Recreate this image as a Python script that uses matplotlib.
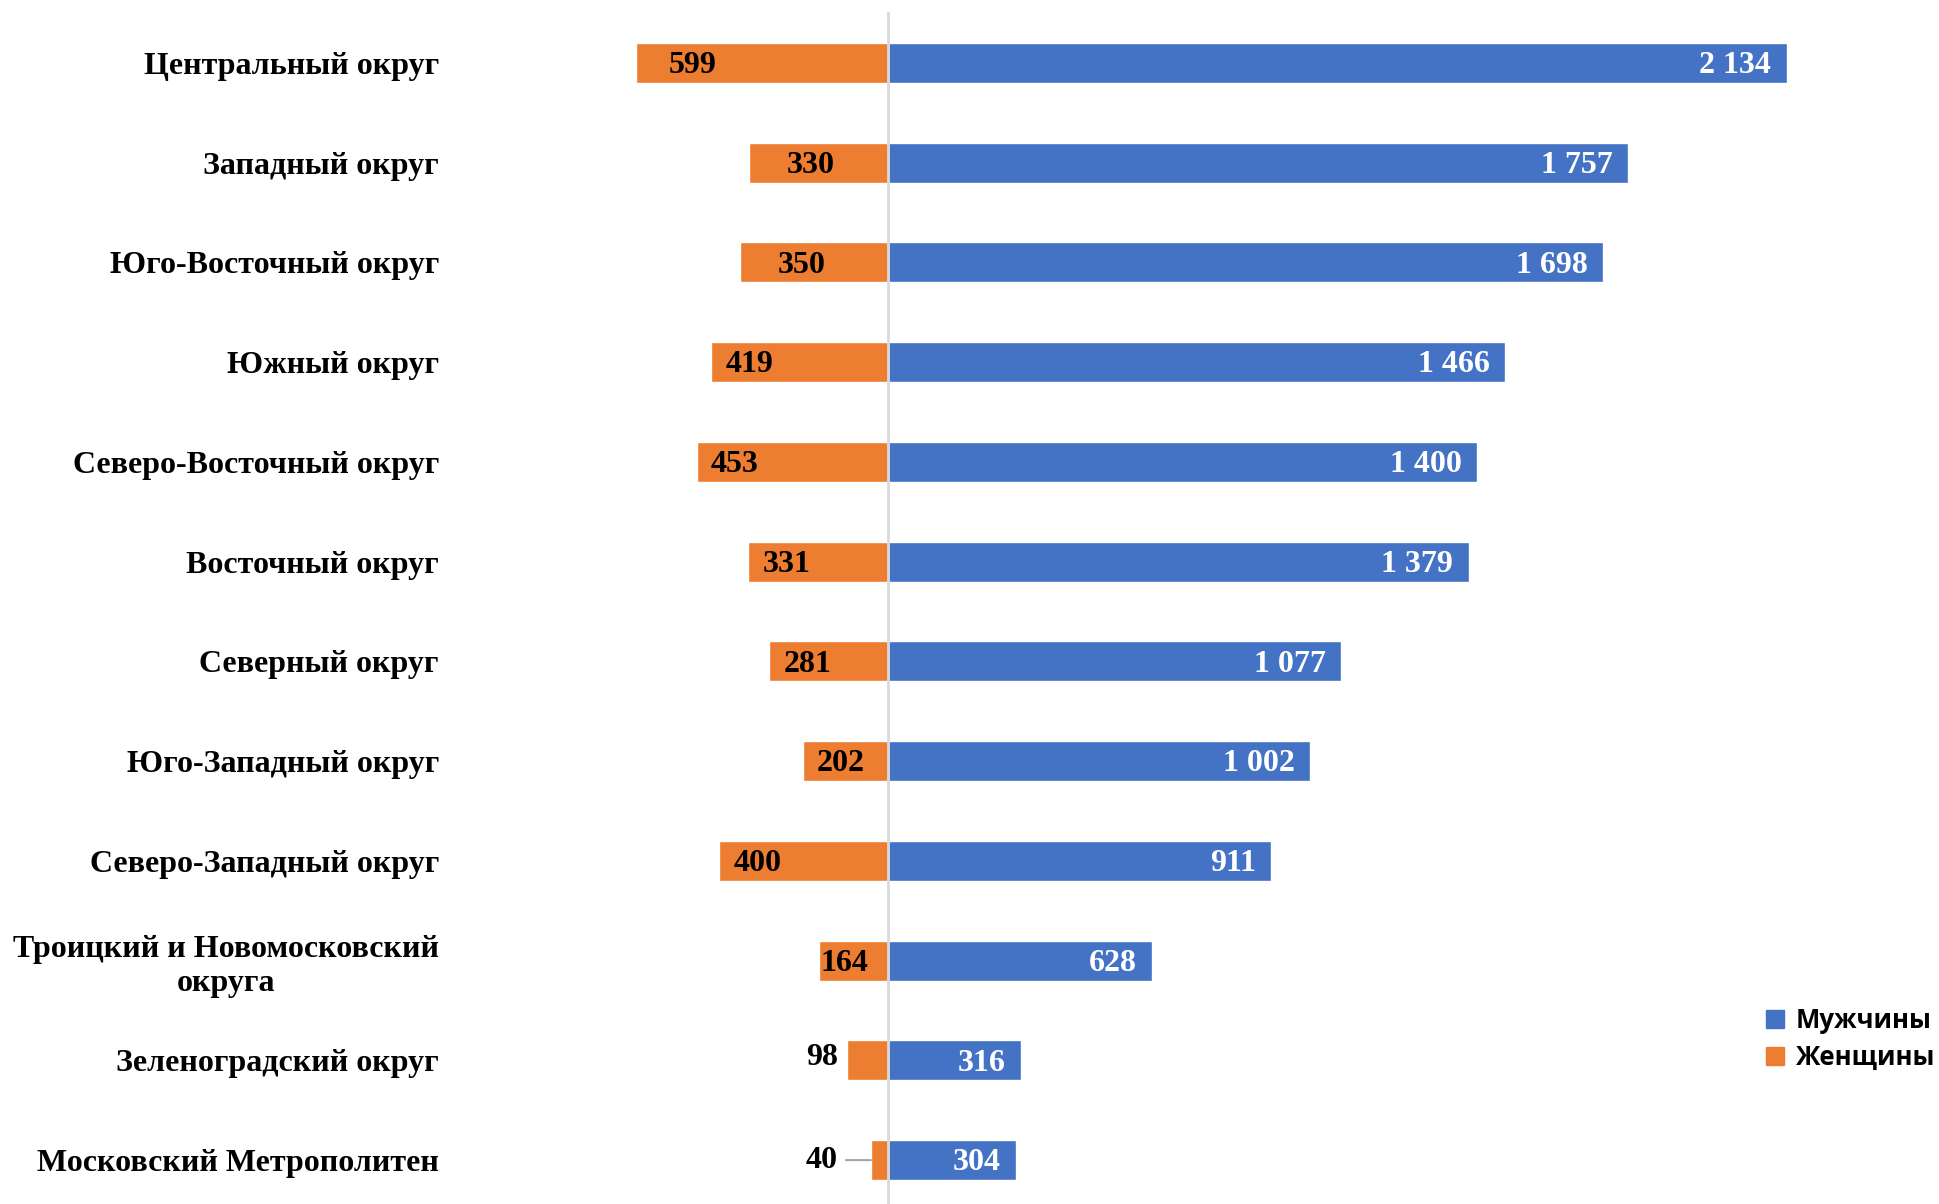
#!/usr/bin/env python3
# -*- coding: utf-8 -*-
import matplotlib
matplotlib.use("Agg")
import matplotlib.pyplot as plt
from matplotlib.patches import Patch

districts = [
    "Центральный округ",
    "Западный округ",
    "Юго-Восточный округ",
    "Южный округ",
    "Северо-Восточный округ",
    "Восточный округ",
    "Северный округ",
    "Юго-Западный округ",
    "Северо-Западный округ",
    "Троицкий и Новомосковский\nокруга",
    "Зеленоградский округ",
    "Московский Метрополитен",
]
men = [2134, 1757, 1698, 1466, 1400, 1379, 1077, 1002, 911, 628, 316, 304]
women = [599, 330, 350, 419, 453, 331, 281, 202, 400, 164, 98, 40]

BLUE = "#4472C4"
ORANGE = "#ED7D31"
SERIF = ["Liberation Serif", "DejaVu Serif"]
# horizontal padding (points) of a few orange labels, as placed in the original
women_pad = {0: 24, 1: 27, 2: 27, 9: 1}


def fmt(v):
    return f"{v:,}".replace(",", " ")


fig = plt.figure(figsize=(19.39, 12.04), dpi=100)
ax = fig.add_axes([0.25, 0.0, 0.75, 0.99])

ypos = list(range(len(districts)))
ax.barh(ypos, men, height=0.40, color=BLUE, edgecolor="white", linewidth=1, zorder=2)
ax.barh(ypos, [-w for w in women], height=0.40, color=ORANGE, edgecolor="white",
        linewidth=1, zorder=2)

ax.set_xlim(-957, 2496)
ax.set_ylim(len(districts) - 1 + 0.44, -0.51)
ax.axvline(0, color="#d9d9d9", lw=2, zorder=3)

ax.set_yticks(ypos)
ax.set_yticklabels(districts, fontsize=23, fontweight="bold", family=SERIF,
                   multialignment="center")
ax.tick_params(axis="y", length=0, pad=33)
ax.set_xticks([])
for s in ax.spines.values():
    s.set_visible(False)

lab = dict(fontsize=23, fontweight="bold", family=SERIF, zorder=4)

# value labels
for y, v in zip(ypos, men):
    ax.annotate(fmt(v), (v, y), xytext=(-11, -2), textcoords="offset points",
                ha="right", va="center", color="white", **lab)

for i, (y, v) in enumerate(zip(ypos, women)):
    if v >= 150:
        ax.annotate(fmt(v), (-v, y), xytext=(women_pad.get(i, 10), -2),
                    textcoords="offset points", ha="left", va="center",
                    color="black", **lab)
    elif v >= 80:
        ax.annotate(fmt(v), (-v, y), xytext=(-6, 2), textcoords="offset points",
                    ha="right", va="center", color="black", **lab)
    else:
        # small bar: label outside with a leader line
        ax.annotate(fmt(v), (-v, y), xytext=(-24, 0), textcoords="offset points",
                    ha="right", va="center", color="black",
                    arrowprops=dict(arrowstyle="-", color="#a6a6a6", lw=1.5,
                                    shrinkA=4, shrinkB=0), **lab)

handles = [Patch(color=BLUE, label="Мужчины"), Patch(color=ORANGE, label="Женщины")]
fig.legend(handles=handles, loc="center left", bbox_to_anchor=(0.899, 0.137),
           frameon=False, handlelength=0.7, handleheight=0.7, handletextpad=0.45,
           labelspacing=0.4, prop={"family": ["Open Sans", "DejaVu Sans"],
                                   "weight": "bold", "size": 18.5})

fig.savefig("out.png", dpi=100)
